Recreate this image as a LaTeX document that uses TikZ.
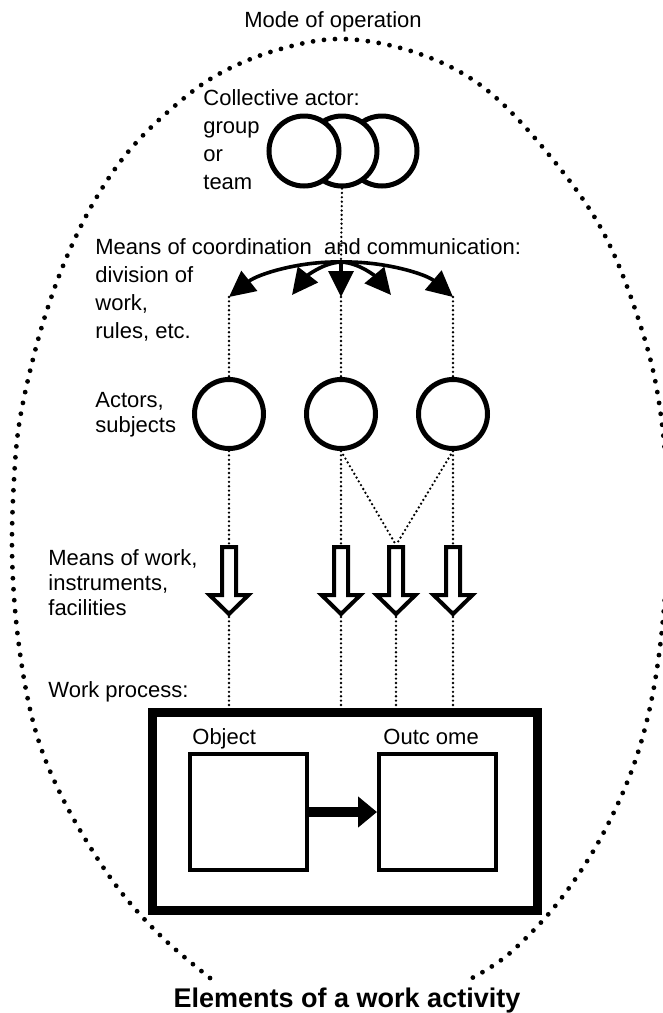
\documentclass[tikz,border=0pt]{standalone}
\usepackage{fontspec}
\setmainfont{Liberation Sans}
\usetikzlibrary{arrows.meta, positioning}
\tikzset{
  txt/.style={
    inner sep=0pt, align=left, anchor=north west,
    font=\fontsize{11}{14}\selectfont
  },
  txtnarrow/.style={txt, font=\fontsize{11}{12.5}\selectfont},
  ring/.style={
    circle, draw, fill=white, line width=2.5pt,
    inner sep=0pt, minimum size=34.5pt
  },
  rim/.style={line width=2.4pt, dash pattern=on 0pt off 5.5pt, line cap=round},
  vline/.style={line width=1.3pt, dash pattern=on 0pt off 2.2pt, line cap=round},
  coord/.style={line width=1.8pt, -{Triangle[length=13pt, width=12.5pt]}},
  flow/.style={line width=5pt, -{Triangle[length=9.5pt, width=15pt]}},
  itembox/.style={draw, line width=2pt, inner sep=0pt, minimum width=58.5pt, minimum height=58pt},
  procbox/.style={draw, line width=4.5pt, inner sep=0pt, minimum width=192.5pt, minimum height=99pt},
  % hollow block arrow, top at the pic origin
  tool/.pic={
    \draw[line width=2pt, fill=white] (-7,0) -- (-7,48) -- (-19.5,48) -- (0,67)
      -- (19.5,48) -- (7,48) -- (7,0) -- cycle;
    \coordinate (-top) at (0,-2);
    \coordinate (-tip) at (0,70);
  }
}

\begin{document}
\begin{tikzpicture}[x=0.5pt, y=-0.5pt]
  \useasboundingbox (0,0) rectangle (663,1013);

  % mode of operation
  \draw[rim] plot[smooth, tension=0.6] coordinates {
    (210,978) (165,940) (125,897) (92,850) (62,797) (40,745) (26,690)
    (16,620) (12,550) (14,480) (19,425) (31,367) (47,310) (68,254)
    (95,200) (128,152) (170,110) (217,75) (277,50) (343,39) (417,53)
    (483,87) (545,150) (602,230) (640,324) (660,409) (668,520) (660,647)
    (640,746) (605,830) (560,900) (510,953) (472,978)};
  \node[inner sep=0pt, anchor=base, font=\fontsize{11}{14}\selectfont] (mode) at (333,27) {Mode of operation};

  % texts on the left
  \node[txt] (collective) at (203,89) {Collective actor:\\group\\or\\team};
  \node[txt] (means) at (95,238) {Means of coordination~ and communication:\\division of\\work,\\rules, etc.};
  \node[txtnarrow] (actors) at (95,392) {Actors,\\subjects};
  \node[txtnarrow] (instr) at (48,549) {Means of work,\\instruments,\\facilities};
  \node[inner sep=0pt, anchor=base west, font=\fontsize{11}{14}\selectfont] (process-lbl) at (48,697) {Work process:};

  % collective actor
  \node[ring, minimum size=35pt] (group3) at (382,151) {};
  \node[ring, minimum size=35pt] (group2) at (342,151) {};
  \node[ring, minimum size=35pt] (group1) at (304,151) {};

  % coordination
  \coordinate (hub) at (341,262);
  \coordinate (c1) at (229,297);
  \coordinate (c2) at (292,295);
  \coordinate (c3) at (341,297);
  \coordinate (c4) at (391,295);
  \coordinate (c5) at (453,297);
  \draw[vline] (group2.south) -- (hub);
  \draw[coord] (hub) .. controls (300,261) and (258,274) .. (c1);
  \draw[coord] (hub) .. controls (322,263) and (306,277) .. (c2);
  \draw[coord] (hub) -- (c3);
  \draw[coord] (hub) .. controls (360,263) and (376,277) .. (c4);
  \draw[coord] (hub) .. controls (384,261) and (426,274) .. (c5);

  % actors
  \node[ring] (act1) at (229,414) {};
  \node[ring] (act2) at (341,414) {};
  \node[ring] (act3) at (453,414) {};
  \draw[vline] (c1) -- (act1.north);
  \draw[vline] (c3) -- (act2.north);
  \draw[vline] (c5) -- (act3.north);

  % means of work
  \pic (w1) at (229,547) {tool};
  \pic (w2) at (341,547) {tool};
  \pic (w3) at (396,547) {tool};
  \pic (w4) at (453,547) {tool};
  \draw[vline] (act1.south) -- (w1-top);
  \draw[vline] (act2.south) -- (w2-top);
  \draw[vline] (act2.south) -- (w3-top);
  \draw[vline] (act3.south) -- (w3-top);
  \draw[vline] (act3.south) -- (w4-top);

  % work process
  \node[procbox] (process) at (345,811.5) {};
  \foreach \w in {w1, w2, w3, w4}
    \draw[vline] (\w-tip) -- (\w-tip |- process.north);
  \node[itembox] (object) at (248.5,812) {};
  \node[itembox] (outcome) at (437.5,812) {};
  \node[inner sep=0pt, anchor=base west, font=\fontsize{11}{14}\selectfont] (object-lbl) at (192,744) {Object};
  \node[inner sep=0pt, anchor=base west, font=\fontsize{11}{14}\selectfont] (outcome-lbl) at (383,744) {Outc ome};
  \draw[flow] (object) -- (outcome);

  \node[inner sep=0pt, anchor=base, font=\fontsize{13.5}{16}\selectfont\bfseries] (title) at (347,1007) {Elements of a work activity};
\end{tikzpicture}
\end{document}
